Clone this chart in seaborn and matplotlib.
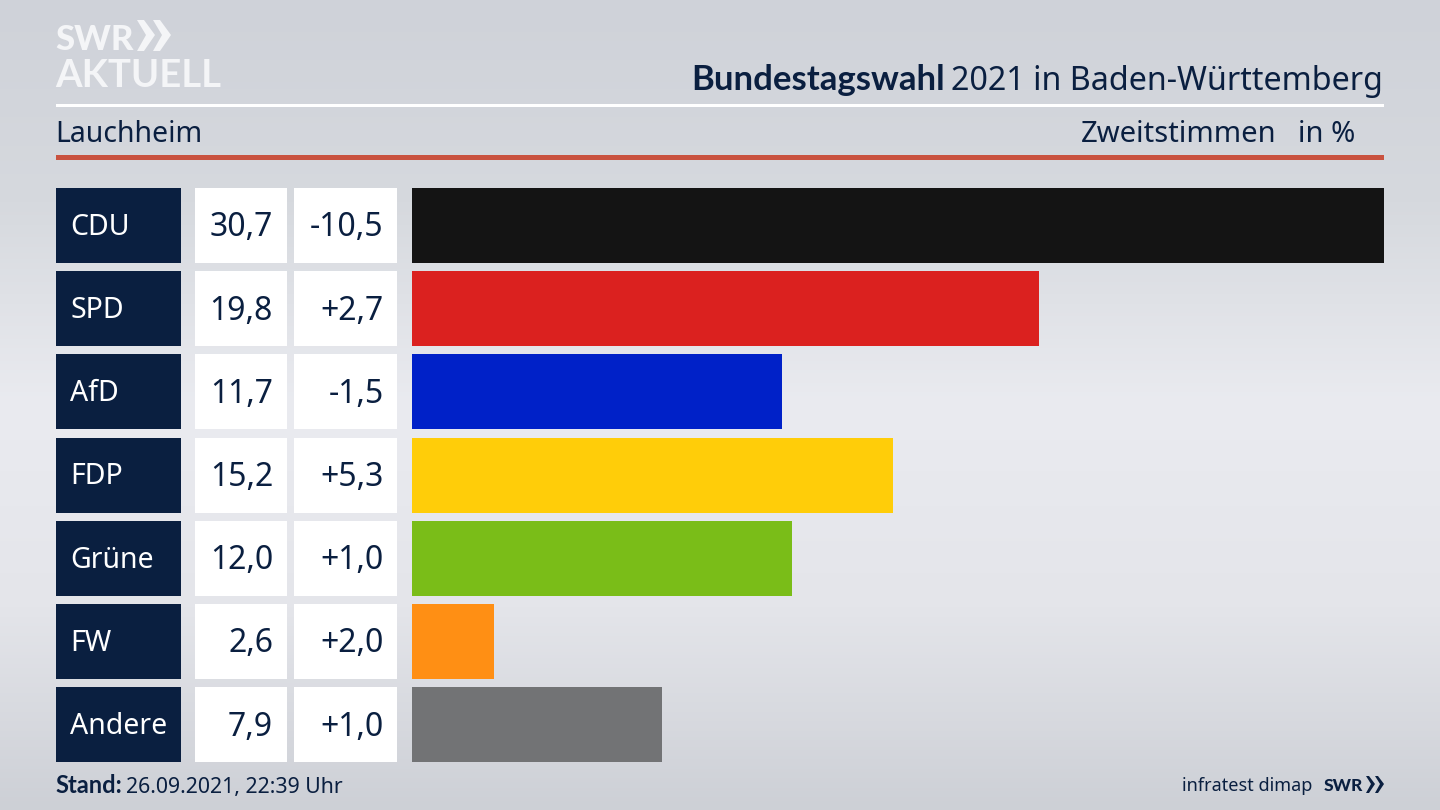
import matplotlib
matplotlib.use('Agg')
import matplotlib.pyplot as plt
from matplotlib.colors import LinearSegmentedColormap
from matplotlib.patches import Polygon, Rectangle
import numpy as np
import pandas as pd
import seaborn as sns

parties = ['CDU', 'SPD', 'AfD', 'FDP', 'Grüne', 'FW', 'Andere']
shares = [30.7, 19.8, 11.7, 15.2, 12.0, 2.6, 7.9]
changes = ['-10,5', '+2,7', '-1,5', '+5,3', '+1,0', '+2,0', '+1,0']
party_colors = ['#141414', '#db211f', '#0021c8', '#ffcd09', '#7abd18', '#ff8f14', '#727375']

NAVY = '#0a1f40'
W, H = 1440, 810
TOP, BOTTOM = 188, 762
CELL = 75
STEP = (BOTTOM - TOP - CELL) / (len(parties) - 1)

sns.set_theme(style='white')
plt.rcParams['font.family'] = ['Noto Sans', 'DejaVu Sans']
BOLD = ['Lato', 'DejaVu Sans']

fig = plt.figure(figsize=(14.4, 8.1), dpi=100)

# background gradient, lightest in the middle
bg = fig.add_axes([0, 0, 1, 1], zorder=0)
cmap = LinearSegmentedColormap.from_list('bg', ['#cfd2d9', '#d6d9de', '#eaebf0', '#e4e5ea', '#cdd0d6'])
bg.imshow(np.linspace(0, 1, 256).reshape(-1, 1), cmap=cmap, aspect='auto')
bg.axis('off')

# bars
df = pd.DataFrame({'party': parties, 'share': shares})
ax = fig.add_axes([412 / W, 1 - BOTTOM / H, (1384 - 412) / W, (BOTTOM - TOP) / H], zorder=1)
ax.patch.set_alpha(0)
sns.barplot(data=df, x='share', y='party', hue='party', palette=party_colors,
            order=parties, hue_order=parties, legend=False, width=CELL / STEP,
            saturation=1, linewidth=0, ax=ax)
half = CELL / STEP / 2
ax.set_xlim(0, max(shares))
ax.set_ylim(len(parties) - 1 + half, -half)
ax.set_xlabel('')
ax.set_ylabel('')
ax.set_xticks([])
ax.set_yticks([])
sns.despine(ax=ax, left=True, bottom=True)

# overlay in pixel coordinates for header, table cells and footer
ov = fig.add_axes([0, 0, 1, 1], zorder=2)
ov.set_xlim(0, W)
ov.set_ylim(H, 0)
ov.axis('off')
ov.patch.set_alpha(0)

for i, party in enumerate(parties):
  y = TOP + i * STEP
  mid = y + CELL / 2 - 1.5
  ov.add_patch(Rectangle((56, y), 125, CELL, color=NAVY, lw=0))
  ov.add_patch(Rectangle((195, y), 92, CELL, color='white', lw=0))
  ov.add_patch(Rectangle((294, y), 103, CELL, color='white', lw=0))
  ov.text(70, mid, party, color='white', fontsize=20.5, va='center_baseline')
  ov.text(273, mid, f'{shares[i]:.1f}'.replace('.', ','), color=NAVY, fontsize=23,
          ha='right', va='center_baseline')
  ov.text(383.5, mid, changes[i], color=NAVY, fontsize=23, ha='right', va='center_baseline')

# header
ov.add_patch(Rectangle((56, 104), 1328, 3, color='white', lw=0))
ov.add_patch(Rectangle((56, 155), 1328, 5, color='#c9523f', lw=0))
ov.text(1383, 90, '2021 in Baden-Württemberg', color=NAVY, fontsize=23.2, ha='right', va='baseline')
ov.text(945, 90, 'Bundestagswahl', color=NAVY, fontsize=25, family=BOLD, fontweight='bold',
        ha='right', va='baseline')
ov.text(55, 142, 'Lauchheim', color=NAVY, fontsize=20.5, va='baseline')
ov.text(1277, 142, 'Zweitstimmen', color=NAVY, fontsize=21, ha='right', va='baseline')
ov.text(1355, 142, 'in %', color=NAVY, fontsize=21, ha='right', va='baseline')

# SWR AKTUELL logo
ov.text(55, 50, 'SWR', color='#f4f5f7', fontsize=25, family=BOLD, fontweight='black', va='baseline')
ov.text(55, 87, 'AKTUELL', color='#f4f5f7', fontsize=27.5, family=BOLD, fontweight='bold', va='baseline')
for x0 in (137, 153):
  ov.add_patch(Polygon([(x0, 20), (x0 + 7, 20), (x0 + 18, 35), (x0 + 7, 51), (x0, 51), (x0 + 9, 35)],
                       closed=True, color='#f4f5f7', lw=0))

# footer
ov.text(55.5, 793, 'Stand:', color=NAVY, fontsize=17, family=BOLD, fontweight='bold', va='baseline')
ov.text(126, 793, '26.09.2021, 22:39 Uhr', color=NAVY, fontsize=15.3, va='baseline')
ov.text(1312, 791, 'infratest dimap', color=NAVY, fontsize=13, ha='right', va='baseline')
ov.text(1324, 791, 'SWR', color=NAVY, fontsize=12.5, family=BOLD, fontweight='black', va='baseline')
for x0 in (1366, 1375):
  ov.add_patch(Polygon([(x0, 776), (x0 + 3, 776), (x0 + 9, 784), (x0 + 3, 793), (x0, 793), (x0 + 5, 784)],
                       closed=True, color=NAVY, lw=0))

fig.savefig('out.png', dpi=100)
